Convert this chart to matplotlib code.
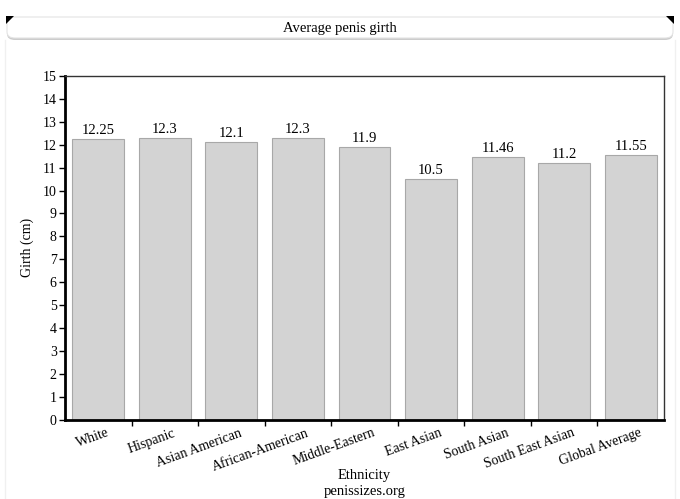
import matplotlib
matplotlib.use("Agg")
import matplotlib.pyplot as plt
import matplotlib.transforms as mtransforms
import numpy as np
from matplotlib.patches import FancyBboxPatch, Polygon
from matplotlib.lines import Line2D

plt.rcParams["font.family"] = ["Liberation Serif", "DejaVu Serif"]

CATEGORIES = [
    "White", "Hispanic", "Asian American", "African-American",
    "Middle-Eastern", "East Asian", "South Asian", "South East Asian",
    "Global Average",
]
GIRTH = [12.25, 12.3, 12.1, 12.3, 11.9, 10.5, 11.46, 11.2, 11.55]
VALUE_LABELS = ["12.25", "12.3", "12.1", "12.3", "11.9", "10.5", "11.46", "11.2", "11.55"]

fig = plt.figure(figsize=(6.8, 4.99), dpi=100)

# header panel with rounded edges and black corner marks
W, H = 680, 499
def fx(px):
    return px / W
def fy(py):
    return 1 - py / H

shadow = FancyBboxPatch((fx(7), fy(40)), fx(666), fy(18) - fy(40),
                        boxstyle="round,pad=0,rounding_size=0.012",
                        transform=fig.transFigure, facecolor="#cccccc",
                        edgecolor="none", zorder=1)
fig.patches.append(shadow)
panel = FancyBboxPatch((fx(7), fy(38)), fx(666), fy(17) - fy(38),
                       boxstyle="round,pad=0,rounding_size=0.012",
                       transform=fig.transFigure, facecolor="white",
                       edgecolor="#e4e4e4", linewidth=0.8, zorder=2)
fig.patches.append(panel)
fig.patches.append(Polygon([(fx(6), fy(16)), (fx(14), fy(16)), (fx(6), fy(24))],
                           closed=True, transform=fig.transFigure,
                           facecolor="black", edgecolor="none", zorder=3))
fig.patches.append(Polygon([(fx(674), fy(16)), (fx(666), fy(16)), (fx(674), fy(24))],
                           closed=True, transform=fig.transFigure,
                           facecolor="black", edgecolor="none", zorder=3))
fig.lines.append(Line2D([fx(5), fx(5)], [fy(40), fy(499)], transform=fig.transFigure,
                        color="#f0f0f0", linewidth=1))
fig.lines.append(Line2D([fx(675), fx(675)], [fy(40), fy(499)], transform=fig.transFigure,
                        color="#f0f0f0", linewidth=1))
fig.text(0.5, fy(28.5), "Average penis girth", ha="center", va="center", fontsize=10.5,
         zorder=4)

ax = fig.add_axes([0.0956, 0.1593, 0.8809, 0.6884])

x = np.arange(len(CATEGORIES))
ax.bar(x, GIRTH, width=0.78, color="#d3d3d3", edgecolor="#a8a8a8", linewidth=0.8)
for xi, v, lab in zip(x, GIRTH, VALUE_LABELS):
    ax.text(xi, v + 0.1, lab, ha="center", va="bottom", fontsize=10.5)

ax.set_xlim(-0.5, len(CATEGORIES) - 0.5)
ax.set_ylim(0, 15)
ax.set_yticks(np.arange(0, 16, 1))
ax.tick_params(axis="y", labelsize=10, length=4, width=1, pad=2)

ax.set_xticks(x)
ax.set_xticklabels(CATEGORIES, rotation=20, ha="right", rotation_mode="anchor", fontsize=10)
ax.tick_params(axis="x", which="major", length=0, pad=5)
ax.set_xticks(np.arange(0.5, len(CATEGORIES) - 0.5, 1), minor=True)
ax.tick_params(axis="x", which="minor", length=4, width=1)
shift = mtransforms.ScaledTranslation(8 / 100, 0, fig.dpi_scale_trans)
for lbl in ax.get_xticklabels():
    lbl.set_transform(lbl.get_transform() + shift)

ax.spines["left"].set_linewidth(2)
ax.spines["bottom"].set_linewidth(2)
ax.spines["top"].set_linewidth(1)
ax.spines["right"].set_linewidth(1)
ax.spines["top"].set_color("#333333")
ax.spines["right"].set_color("#333333")

ax.set_ylabel("Girth (cm)", fontsize=10, labelpad=6)
fig.text(0.5 * (0.0956 + 0.9765), fy(476), "Ethnicity", ha="center", va="center", fontsize=10.5)
fig.text(0.5 * (0.0956 + 0.9765), fy(491), "penissizes.org", ha="center", va="center", fontsize=10.5)

fig.savefig("out.png", dpi=100)
